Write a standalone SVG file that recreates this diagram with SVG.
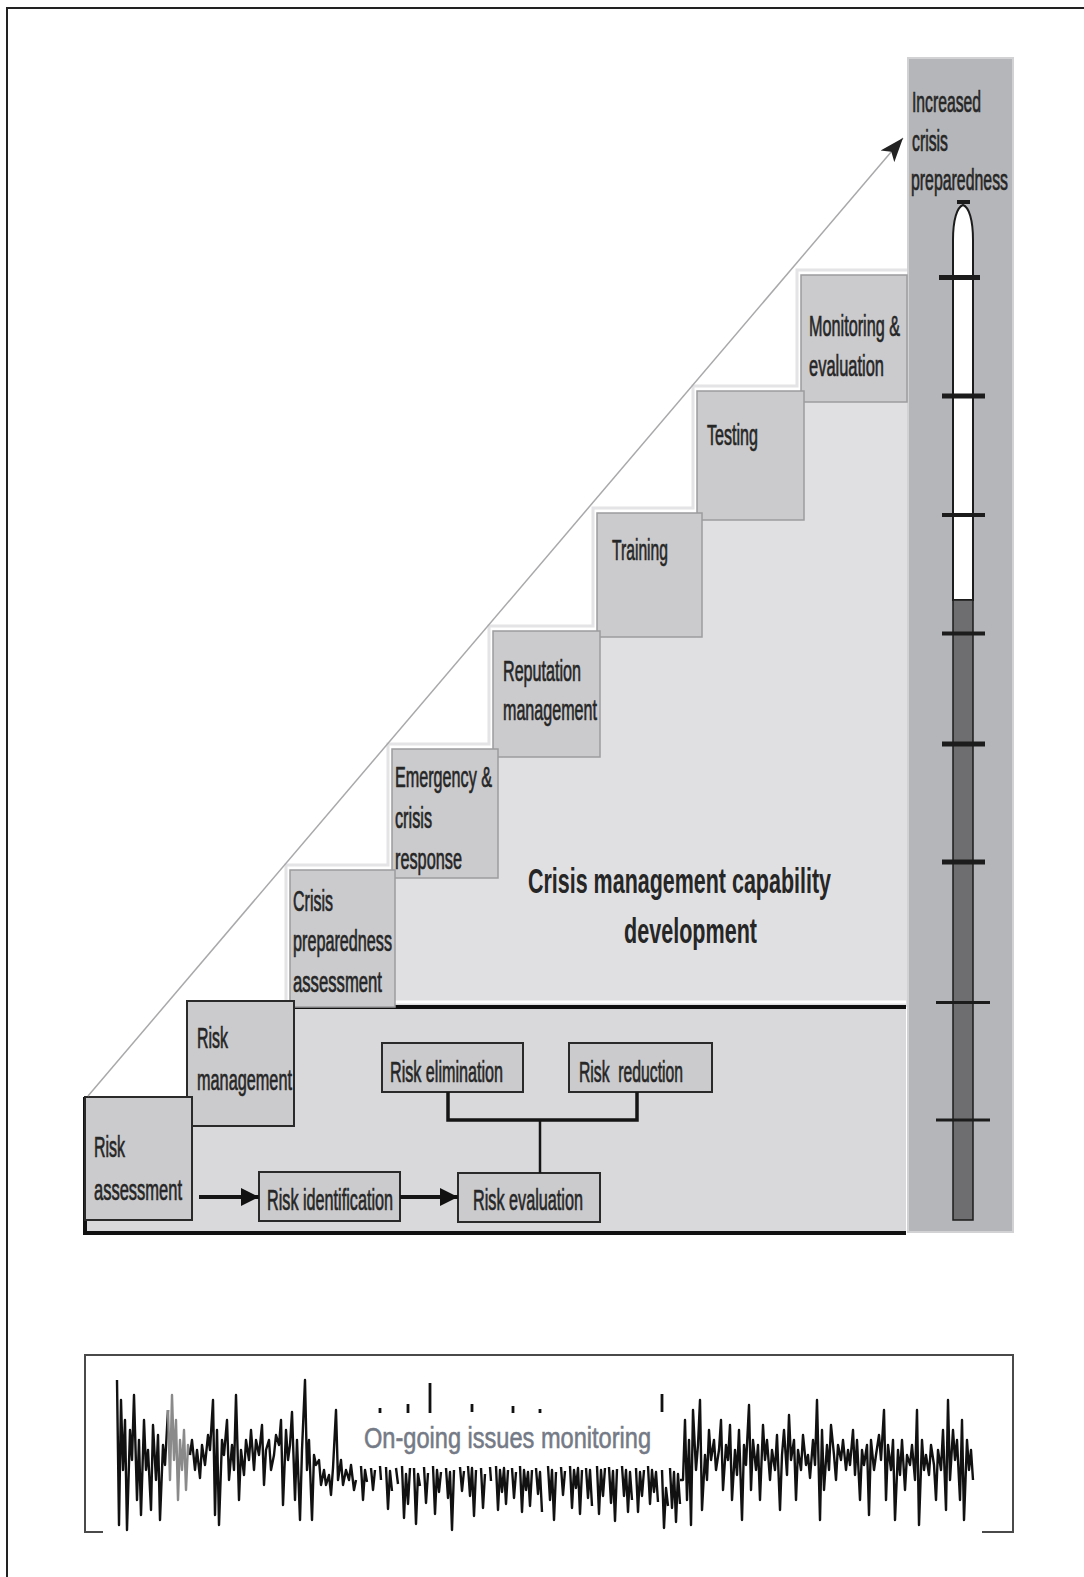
<svg xmlns="http://www.w3.org/2000/svg" width="1084" height="1577" viewBox="0 0 1084 1577">
  <style>
    .lbl { font-family: "Liberation Sans", Arial, sans-serif; font-size: 29px; fill: #262626; stroke: #262626; stroke-width: 0.7; }
    .head { font-family: "Liberation Sans", Arial, sans-serif; font-size: 35px; font-weight: bold; fill: #262626; }
    .mon { font-family: "Liberation Sans", Arial, sans-serif; font-size: 30px; fill: #747a86; stroke: #747a86; stroke-width: 0.6; }
    .box-up { fill: #cbcbcd; stroke: #9c9c9e; stroke-width: 1.5; }
    .box-lo { fill: #cbcbcd; stroke: #2a2a2a; stroke-width: 2; }
    .conn { fill: none; stroke: #151515; }
    .wave { fill: none; stroke: #111; stroke-width: 2.4; stroke-linejoin: round; }
    .tick { fill: #1c1c1c; }
  </style>
  <defs>
    <marker id="ahHead" viewBox="0 0 20 20" markerWidth="20" markerHeight="20" refX="18" refY="10" orient="auto" markerUnits="userSpaceOnUse">
      <path d="M0,1 L18,10 L0,19 Z" fill="#111"/>
    </marker>
    <marker id="ahDiag" viewBox="0 0 26 20" markerWidth="26" markerHeight="20" refX="24" refY="10" orient="auto" markerUnits="userSpaceOnUse">
      <path d="M0,1 L24,10 L0,19 L6,10 Z" fill="#222"/>
    </marker>
  </defs>

  <rect width="1084" height="1577" fill="#ffffff"/>

  <!-- page frame -->
  <path d="M1084,8 H7 V1577" fill="none" stroke="#222" stroke-width="2"/>

  <!-- capability development panel (stepped) -->
  <polygon points="290,1007 290,870 392,870 392,749 493,749 493,631 597,631 597,513 697,513 697,391 801,391 801,275 908,275 908,1007" fill="#e0e0e2"/>
  <polyline points="286,1007 286,865 388,865 388,744 489,744 489,626 593,626 593,508 693,508 693,386 797,386 797,270 908,270" fill="none" stroke="#e4e4e6" stroke-width="3"/>

  <!-- risk management panel -->
  <polygon points="85,1097 187,1097 187,1007 906,1007 906,1233 85,1233" fill="#d9d9db"/>
  <line x1="395" y1="1002" x2="906" y2="1002" stroke="#ffffff" stroke-width="3"/>
  <line x1="294" y1="1007" x2="906" y2="1007" stroke="#111" stroke-width="4"/>
  <path d="M85,1097 V1233 H906" fill="none" stroke="#111" stroke-width="4"/>

  <!-- preparedness gauge column -->
  <g id="gauge">
    <rect x="908" y="58" width="105" height="1174" fill="#b5b6b9" stroke="#d2d2d4" stroke-width="2"/>
    <text class="lbl" transform="matrix(0.55 0 0 1 912 112)" textLength="125.5" lengthAdjust="spacingAndGlyphs">Increased</text>
    <text class="lbl" transform="matrix(0.55 0 0 1 912 151)" textLength="65.5" lengthAdjust="spacingAndGlyphs">crisis</text>
    <text class="lbl" transform="matrix(0.55 0 0 1 911 190)" textLength="176.4" lengthAdjust="spacingAndGlyphs">preparedness</text>
    <rect x="957" y="200" width="13" height="4" class="tick"/>
    <path d="M953,600 V240 C953,220 957,207 963,205 C969,207 973,220 973,240 V600 Z" fill="#ffffff" stroke="#1c1c1c" stroke-width="2"/>
    <rect x="953" y="600" width="20" height="620" fill="#6e6e70" stroke="#1c1c1c" stroke-width="1.5"/>
    <rect x="939" y="275" width="41" height="5" class="tick"/>
    <rect x="942" y="393.5" width="43" height="5" class="tick"/>
    <rect x="942" y="513" width="43" height="4" class="tick"/>
    <rect x="942" y="631.5" width="43" height="4" class="tick"/>
    <rect x="942" y="741.5" width="43" height="5" class="tick"/>
    <rect x="942" y="859.5" width="43" height="5" class="tick"/>
    <rect x="936" y="1001" width="54" height="3" class="tick"/>
    <rect x="936" y="1118.5" width="54" height="3" class="tick"/>
  </g>

  <!-- staircase steps -->
  <g id="monitoring-evaluation">
    <rect class="box-up" x="801" y="275" width="106" height="127"/>
    <text class="lbl" transform="matrix(0.55 0 0 1 809 336)" textLength="165.5" lengthAdjust="spacingAndGlyphs">Monitoring &amp;</text>
    <text class="lbl" transform="matrix(0.55 0 0 1 809 376)" textLength="136.4" lengthAdjust="spacingAndGlyphs">evaluation</text>
  </g>
  <g id="testing">
    <rect class="box-up" x="697" y="391" width="107" height="129"/>
    <text class="lbl" transform="matrix(0.55 0 0 1 707 445)" textLength="92.7" lengthAdjust="spacingAndGlyphs">Testing</text>
  </g>
  <g id="training">
    <rect class="box-up" x="597" y="513" width="105" height="124"/>
    <text class="lbl" transform="matrix(0.55 0 0 1 612 560)" textLength="101.8" lengthAdjust="spacingAndGlyphs">Training</text>
  </g>
  <g id="reputation-management">
    <rect class="box-up" x="493" y="631" width="107" height="126"/>
    <text class="lbl" transform="matrix(0.55 0 0 1 503 681)" textLength="141.8" lengthAdjust="spacingAndGlyphs">Reputation</text>
    <text class="lbl" transform="matrix(0.55 0 0 1 503 720)" textLength="170.9" lengthAdjust="spacingAndGlyphs">management</text>
  </g>
  <g id="emergency-crisis-response">
    <rect class="box-up" x="392" y="749" width="106" height="129"/>
    <text class="lbl" transform="matrix(0.55 0 0 1 395 787)" textLength="176.4" lengthAdjust="spacingAndGlyphs">Emergency &amp;</text>
    <text class="lbl" transform="matrix(0.55 0 0 1 395 828)" textLength="67.3" lengthAdjust="spacingAndGlyphs">crisis</text>
    <text class="lbl" transform="matrix(0.55 0 0 1 395 869)" textLength="121.8" lengthAdjust="spacingAndGlyphs">response</text>
  </g>
  <g id="crisis-preparedness-assessment">
    <rect class="box-up" x="290" y="870" width="105" height="137"/>
    <text class="lbl" transform="matrix(0.55 0 0 1 293 911)" textLength="72.7" lengthAdjust="spacingAndGlyphs">Crisis</text>
    <text class="lbl" transform="matrix(0.55 0 0 1 293 951)" textLength="180" lengthAdjust="spacingAndGlyphs">preparedness</text>
    <text class="lbl" transform="matrix(0.55 0 0 1 293 992)" textLength="161.8" lengthAdjust="spacingAndGlyphs">assessment</text>
  </g>
  <g id="risk-management">
    <rect class="box-lo" x="187" y="1001" width="107" height="125"/>
    <text class="lbl" transform="matrix(0.55 0 0 1 197 1048)" textLength="56.4" lengthAdjust="spacingAndGlyphs">Risk</text>
    <text class="lbl" transform="matrix(0.55 0 0 1 197 1090)" textLength="172.7" lengthAdjust="spacingAndGlyphs">management</text>
  </g>
  <g id="risk-assessment">
    <rect class="box-lo" x="85" y="1097" width="107" height="123"/>
    <text class="lbl" transform="matrix(0.55 0 0 1 94 1157)" textLength="56.4" lengthAdjust="spacingAndGlyphs">Risk</text>
    <text class="lbl" transform="matrix(0.55 0 0 1 94 1200)" textLength="160" lengthAdjust="spacingAndGlyphs">assessment</text>
  </g>

  <!-- panel heading -->
  <g id="capability-title">
    <text class="head" transform="matrix(0.61 0 0 1 528 893)" textLength="496.7" lengthAdjust="spacingAndGlyphs">Crisis management capability</text>
    <text class="head" transform="matrix(0.61 0 0 1 624 943)" textLength="218" lengthAdjust="spacingAndGlyphs">development</text>
  </g>

  <!-- risk process boxes -->
  <g id="risk-elimination">
    <rect class="box-lo" x="382" y="1043" width="141" height="49"/>
    <text class="lbl" transform="matrix(0.55 0 0 1 390 1082)" textLength="205.5" lengthAdjust="spacingAndGlyphs">Risk elimination</text>
  </g>
  <g id="risk-reduction">
    <rect class="box-lo" x="569" y="1043" width="143" height="49"/>
    <text class="lbl" transform="matrix(0.55 0 0 1 579 1082)" textLength="189.1" lengthAdjust="spacingAndGlyphs" style="white-space:pre">Risk  reduction</text>
  </g>
  <g id="risk-identification">
    <rect class="box-lo" x="259" y="1172" width="141" height="49"/>
    <text class="lbl" transform="matrix(0.55 0 0 1 267 1210)" textLength="229.1" lengthAdjust="spacingAndGlyphs">Risk identification</text>
  </g>
  <g id="risk-evaluation">
    <rect class="box-lo" x="458" y="1173" width="142" height="49"/>
    <text class="lbl" transform="matrix(0.55 0 0 1 473 1210)" textLength="200" lengthAdjust="spacingAndGlyphs">Risk evaluation</text>
  </g>

  <!-- connectors -->
  <g id="connectors">
    <line x1="88" y1="1096" x2="903" y2="138" stroke="#a9a9ab" stroke-width="1.5" marker-end="url(#ahDiag)"/>
    <line class="conn" x1="199" y1="1197" x2="259" y2="1197" stroke-width="4" marker-end="url(#ahHead)"/>
    <line class="conn" x1="400" y1="1197" x2="458" y2="1197" stroke-width="4" marker-end="url(#ahHead)"/>
    <path class="conn" d="M448,1092 V1120 H637 V1092" stroke-width="3.5"/>
    <line class="conn" x1="540" y1="1120" x2="540" y2="1173" stroke-width="2.5"/>
  </g>

  <!-- issues monitoring strip -->
  <g id="issues-monitoring">
    <path d="M103,1532 H85 V1355 H1013 V1532 H982" fill="none" stroke="#4a4a4a" stroke-width="2"/>
    <polyline class="wave" points="117,1380 119,1525 121,1400 123,1470 125,1420 127,1530 130,1430 132,1460 134,1395 137,1500 139,1440 141,1515 144,1420 146,1470 148,1450 151,1510 153,1425 156,1480 158,1435 160,1520 163,1445 165,1465 168,1410"/>
    <polyline class="wave" style="stroke:#8a8a8a" points="168,1410 170,1480 172,1395 174,1460 176,1420 178,1500 180,1440 182,1470 184,1430 186,1490 188,1445 190,1455"/>
    <polyline class="wave" points="190,1455 192,1440 195,1470 197,1450 200,1478 202,1445 205,1465 208,1435 210,1450 213,1400 215,1515 217,1430 219,1525 222,1440 224,1455 227,1420 229,1480 232,1445 234,1470 236,1395 239,1500 241,1450 244,1475 246,1440 249,1460 251,1430 254,1470 256,1440 259,1455 262,1425 264,1485 266,1450 269,1440 271,1470 274,1455 276,1435 279,1445 281,1420 283,1505 286,1430 288,1460 290,1445 292,1412 295,1500 297,1440 300,1520 302,1450 305,1380 307,1470 309,1440 312,1520 314,1455 316,1465 319,1460 321,1485 324,1470 326,1485 329,1475 331,1495 333,1468 336,1410 338,1480 341,1460 343,1485 346,1470 349,1480 351,1465 354,1490 356,1480"/>
    <path class="wave" d="M361 1466 l2 34 l2 -30 l2 12 M371 1468 l2 22 l2 -20 M380 1466 l1 14 M386 1467 l2 42 l2 -38 l2 20 M396 1468 l2 16 M402 1466 l2 52 l2 -44 l2 30 l2 -36 M414 1468 l2 56 l2 -50 l2 12 M424 1467 l2 36 l2 -30 M433 1466 l2 48 l2 -44 l2 22 l2 -20 M446 1468 l2 30 l2 -26 l2 58 l2 -60 M460 1467 l2 24 l2 -20 M468 1466 l2 30 l2 -28 l2 48 l2 -46 M481 1468 l2 40 l2 -34 M490 1467 l1 14 M496 1466 l2 44 l2 -40 l2 22 l2 -24 l2 36 l2 -34 M512 1468 l2 30 l2 -26 M520 1466 l2 46 l2 -42 l2 20 l2 -18 l2 34 l2 -36 M536 1468 l2 26 l2 -22 l2 40 M548 1466 l2 34 l2 -30 l2 50 l2 -48 M561 1467 l2 28 l2 -24 M570 1466 l2 42 l2 -38 l2 18 l2 -20 l2 46 l2 -44 M586 1468 l2 30 l2 -28 l2 36 M597 1466 l2 48 l2 -44 l2 26 l2 -28 M609 1467 l2 36 l2 -32 l2 50 l2 -52 M622 1466 l2 30 l2 -26 l2 42 l2 -40 l2 28 M636 1468 l2 44 l2 -40 l2 24 l2 -26 M648 1466 l2 38 l2 -34 l2 22 l2 -20 l2 30 M662 1470 l2 58 l2 -40 l2 18 M670 1468 l2 40 l2 -36 l2 50 l2 -48 l2 30"/>
    <path class="wave" style="stroke-width:2.8" d="M380 1408 v5 M408 1404 v9 M430 1383 v30 M472 1404 v8 M513 1406 v7 M540 1409 v4 M662 1394 v18"/>
    <polyline class="wave" points="680,1480 683,1480 685,1420 687,1500 689,1440 691,1525 693,1410 696,1470 698,1445 700,1400 702,1510 705,1455 707,1480 709,1430 711,1460 714,1440 716,1470 719,1450 721,1420 723,1490 726,1445 728,1460 730,1425 732,1500 735,1450 737,1475 739,1430 742,1520 744,1445 746,1465 749,1405 751,1490 753,1440 756,1470 758,1445 760,1500 763,1425 765,1460 767,1440 770,1480 772,1450 775,1470 777,1435 780,1510 782,1455 784,1430 787,1475 789,1415 791,1460 794,1440 796,1500 798,1450 801,1470 803,1435 806,1465 808,1455 810,1478 813,1440 815,1465 817,1400 820,1520 822,1430 824,1490 827,1445 829,1470 831,1425 834,1455 836,1480 838,1445 841,1460 843,1440 846,1470 848,1450 850,1465 853,1430 855,1475 857,1440 860,1500 862,1450 864,1465 867,1445 869,1515 871,1440 874,1470 876,1455 879,1435 881,1460 884,1410 886,1500 888,1445 891,1470 893,1440 895,1520 898,1450 900,1475 902,1440 905,1490 907,1455 910,1465 912,1445 915,1480 917,1410 919,1525 922,1440 924,1470 926,1455 929,1475 931,1445 934,1465 936,1500 938,1450 941,1470 943,1430 946,1510 948,1400 950,1480 953,1430 955,1460 957,1440 960,1500 962,1420 964,1520 967,1440 969,1470 971,1450 973,1480"/>
    <text class="mon" transform="matrix(0.79 0 0 1 364 1448)" textLength="363.3" lengthAdjust="spacingAndGlyphs">On-going issues monitoring</text>
  </g>
</svg>
